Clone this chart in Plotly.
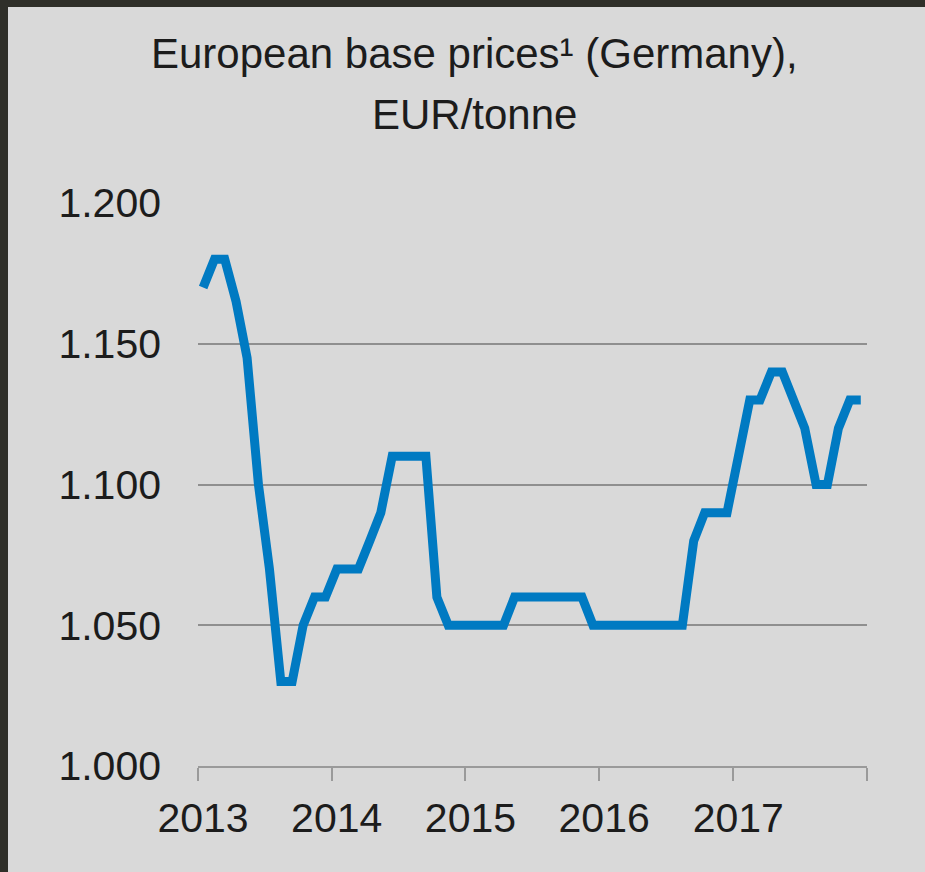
import plotly.graph_objects as go

# Monthly European base prices (Germany), EUR/tonne, Jan 2013 - Dec 2017
months = [f"{y}-{m:02d}-15" for y in range(2013, 2018) for m in range(1, 13)]
prices = [
    1170, 1180, 1180, 1165, 1145, 1100, 1070, 1030, 1030, 1050, 1060, 1060,  # 2013
    1070, 1070, 1070, 1080, 1090, 1110, 1110, 1110, 1110, 1060, 1050, 1050,  # 2014
    1050, 1050, 1050, 1050, 1060, 1060, 1060, 1060, 1060, 1060, 1060, 1050,  # 2015
    1050, 1050, 1050, 1050, 1050, 1050, 1050, 1050, 1080, 1090, 1090, 1090,  # 2016
    1110, 1130, 1130, 1140, 1140, 1130, 1120, 1100, 1100, 1120, 1130, 1130,  # 2017
]
year_ticks = ["2013-01-01", "2014-01-01", "2015-01-01", "2016-01-01", "2017-01-01"]
year_labels = ["2013", "2014", "2015", "2016", "2017"]
year_bounds = year_ticks + ["2018-01-01"]
price_ticks = [1000, 1050, 1100, 1150, 1200]

W, H = 925, 872
L, R, T, B = 198, 58, 203, 106
pw, ph = W - L - R, H - T - B

def px_x(p):
    return (p - L) / pw

def px_y(p):
    return (H - B - p) / ph

BG = "#d9d9d9"
FRAME = "#2f2f29"
TXT = "#1c1c1c"
AXIS = "#9a9a9a"
FONT = "Liberation Sans, Arial, sans-serif"

fig = go.Figure()
fig.add_trace(go.Scatter(
    x=months, y=prices, mode="lines",
    line=dict(color="#007ac2", width=9),
    hoverinfo="skip", showlegend=False,
))

fig.update_layout(
    width=W, height=H,
    margin=dict(l=L, r=R, t=T, b=B, pad=0),
    paper_bgcolor=BG, plot_bgcolor=BG,
    separators=",.",
    font=dict(family=FONT, size=41, color=TXT),
    xaxis=dict(
        type="date", range=["2013-01-01", "2018-01-01"],
        tickmode="array", tickvals=year_ticks, ticktext=year_labels,
        showgrid=False, zeroline=False,
        showline=True, linecolor=AXIS, linewidth=2,
        ticks="outside", ticklen=13, tickwidth=2, tickcolor=AXIS,
        ticklabelshift=5, ticklabelstandoff=2,
        tickfont=dict(family=FONT, size=41, color=TXT),
        minor=dict(tickmode="array", tickvals=year_bounds, ticks="outside",
                   ticklen=13, tickwidth=2, tickcolor=AXIS, showgrid=False),
    ),
    yaxis=dict(
        range=[1000, 1200],
        tickmode="array", tickvals=price_ticks, tickformat=",d",
        showgrid=True, gridcolor="#8f8f8f", gridwidth=2,
        zeroline=False, showline=False, ticks="",
        ticklabelstandoff=36,
        tickfont=dict(family=FONT, size=41, color=TXT),
    ),
    annotations=[
        dict(text="European base prices\u00b9 (Germany),",
             xref="paper", yref="paper", x=px_x(474), y=px_y(53),
             xanchor="center", yanchor="middle", showarrow=False,
             font=dict(family=FONT, size=42, color=TXT)),
        dict(text="EUR/tonne",
             xref="paper", yref="paper", x=px_x(474), y=px_y(114),
             xanchor="center", yanchor="middle", showarrow=False,
             font=dict(family=FONT, size=42, color=TXT)),
    ],
    shapes=[
        # dark frame along the top and left edges of the card
        dict(type="rect", xref="paper", yref="paper", layer="above",
             x0=px_x(0), x1=px_x(W), y0=px_y(0), y1=px_y(7),
             fillcolor=FRAME, line=dict(width=0)),
        dict(type="rect", xref="paper", yref="paper", layer="above",
             x0=px_x(0), x1=px_x(8), y0=px_y(0), y1=px_y(H),
             fillcolor=FRAME, line=dict(width=0)),
    ],
)

fig.write_html("out.html")
